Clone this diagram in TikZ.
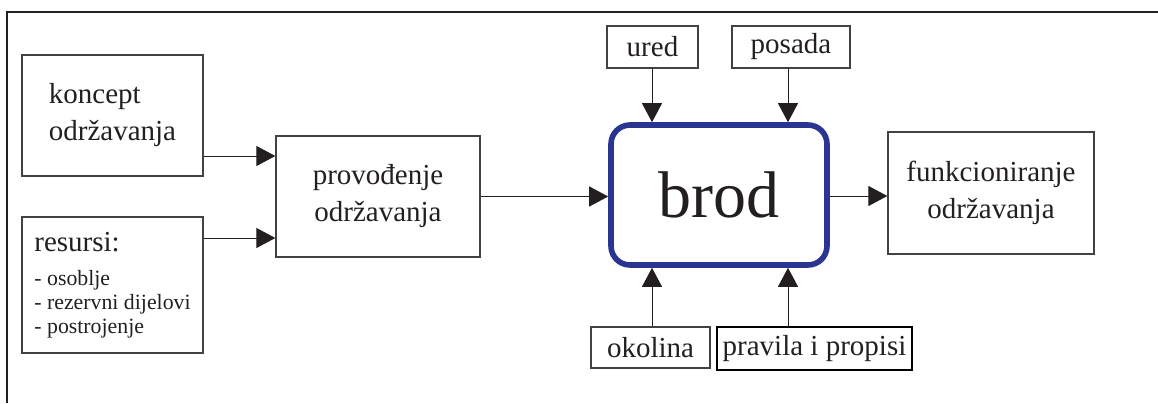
\documentclass[tikz,border=0pt]{standalone}
\usepackage{fontspec}
\setmainfont{Liberation Serif}
\usetikzlibrary{arrows.meta}
\definecolor{ink}{RGB}{35,31,32}
\definecolor{shipblue}{RGB}{42,52,145}
\tikzset{>={Triangle[length=9.5pt,width=10pt]}}
\tikzset{
  box/.style={draw=ink!85,line width=0.65pt,inner sep=0pt,text=ink,
    font=\fontsize{14.5}{18.5}\selectfont},
  shipbox/.style={draw=shipblue,line width=2.8pt,rounded corners=9.5pt,
    inner sep=0pt,text=ink,font=\fontsize{33}{36}\selectfont},
  arr/.style={->,line width=0.5pt,ink}
}

\begin{document}
\begin{tikzpicture}[x=0.5pt,y=-0.5pt]
    \useasboundingbox (0,0) rectangle (1158,403);
    \draw[line width=0.8pt,ink] (1158,12) -- (7,12) -- (7,403);
    % left side
    \node[box,minimum width=90.5pt,minimum height=60.5pt,align=left] (kon) at (112.5,115.5) {koncept\\održavanja};
    \node[box,minimum width=90.5pt,minimum height=68pt,align=left,
      font=\fontsize{10.9}{12}\selectfont] (res) at (112.5,285)
      {{\fontsize{14.5}{17}\selectfont resursi:}\\[5pt]- osoblje\\- rezervni dijelovi\\- postrojenje};
    \node[box,minimum width=102pt,minimum height=60.5pt,align=center] (prov) at (378,196.5) {provođenje\\održavanja};
    % ship
    \node[shipbox,minimum width=108pt,minimum height=70pt] (brod) at (719,195) {brod};
    \node[box,minimum width=45.5pt,minimum height=21pt] (ured) at (652.5,47) {ured};
    \node[box,minimum width=59pt,minimum height=21pt] (posada) at (791,47) {posada};
    \node[box,minimum width=59.5pt,minimum height=20.5pt] (okolina) at (650.5,347.5) {okolina};
    \node[box,draw=black,minimum width=97.5pt,minimum height=21.5pt] (pravila) at (814.5,348.5) {pravila i propisi};
    \node[box,minimum width=103pt,minimum height=61pt,align=center] (funk) at (991,193) {funkcioniranje\\održavanja};
    % connectors
    \draw[arr] (kon.east |- 0,156) -- (prov.west |- 0,156);
    \draw[arr] (res.east |- 0,238) -- (prov.west |- 0,238);
    \draw[arr] (prov.east) -- (brod.west |- prov.east);
    \draw[arr] (brod.east |- 0,196) -- (funk.west |- 0,196);
    \draw[arr] (ured.south -| 652,0) -- (brod.north -| 652,0);
    \draw[arr] (posada.south -| 788,0) -- (brod.north -| 788,0);
    \draw[arr] (okolina.north -| 652,0) -- (brod.south -| 652,0);
    \draw[arr] (pravila.north -| 788,0) -- (brod.south -| 788,0);
\end{tikzpicture}
\end{document}
